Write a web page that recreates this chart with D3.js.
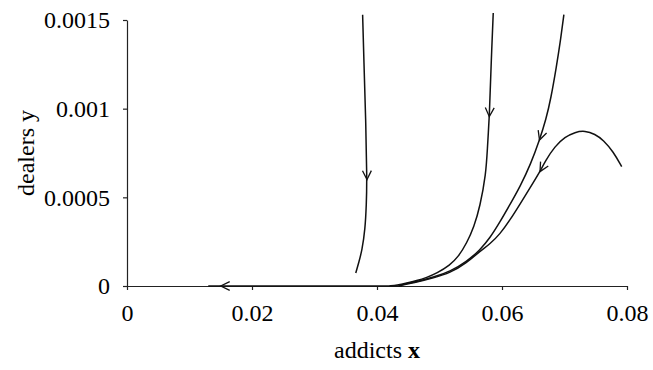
<!DOCTYPE html>
<html>
<head>
<meta charset="utf-8">
<script src="https://cdn.jsdelivr.net/npm/d3@7"></script>
<style>
  body { margin: 0; background: #fff; }
  text { font-family: "Liberation Serif", "Times New Roman", serif; fill: #000; }
</style>
</head>
<body>
<div id="chart"></div>
<script>
// tick values / labels
var xTicks = [0, 0.02, 0.04, 0.06, 0.08];
var xTickLabels = ["0", "0.02", "0.04", "0.06", "0.08"];
var yTicks = [0, 0.0005, 0.001, 0.0015];
var yTickLabels = ["0", "0.0005", "0.001", "0.0015"];

// trajectories, listed in the direction of travel
var curveA = [[0.0377,0.00153],[0.0379,0.00127],[0.0382,0.00094],[0.0384,0.0006],
              [0.0383,0.00046],[0.0381,0.00032],[0.0376,0.0002],[0.0371,0.000135],[0.0366,0.000073]];
var curveB = [[0.0586,0.00154],[0.05835,0.00133],[0.0581,0.00109],[0.05797,0.000955],
              [0.05765,0.000767],[0.05744,0.000635],[0.05648,0.000447],[0.05552,0.000334],
              [0.05435,0.000241],[0.05301,0.000165],[0.05168,0.000118],[0.04955,0.0000716],
              [0.04795,0.0000479],[0.04635,0.00003],[0.04475,0.0000164],[0.0432,0.0000045],[0.042,0]];
var curveC = [[0.0699,0.00153],[0.0693,0.00137],[0.06872,0.00124],[0.06784,0.00106],
              [0.06704,0.00094],[0.066,0.000823],[0.06464,0.000692],[0.06288,0.000559],
              [0.06128,0.00046],[0.05968,0.000361],[0.05808,0.000271],[0.05648,0.000203],
              [0.05435,0.000138],[0.05168,0.0000812],[0.049,0.000049],[0.04635,0.0000242],
              [0.04475,0.0000152],[0.0435,0]];
var curveD = [[0.07915,0.000673],[0.07781,0.000757],[0.07621,0.000823],[0.07488,0.000857],
              [0.07328,0.000876],[0.07168,0.000868],[0.07008,0.00084],[0.06848,0.000789],
              [0.06688,0.000702],[0.06608,0.000645],[0.06448,0.000553],[0.06288,0.000462],
              [0.06128,0.000372],[0.05968,0.000293],[0.05808,0.000237],[0.05648,0.000197],
              [0.05435,0.00013],[0.05168,0.0000733],[0.049,0.000045],[0.04635,0.000021],
              [0.04475,0.000012],[0.0435,0]];
var axisFlow = [[0.044,0],[0.013,0]];

// arrow heads: which curve, and where on it
var arrowCurves = [curveA, curveB, curveC, curveD, axisFlow];
var arrowAt = [[0.0384,0.0006],[0.05797,0.000955],[0.066,0.000823],[0.06608,0.000645],[0.015,0]];

var width = 653, height = 370;
var margin = {top: 20, right: 26, bottom: 84, left: 127};

var svg = d3.select("#chart").append("svg")
    .attr("width", width).attr("height", height);

var xScale = d3.scaleLinear().domain([0, 0.08]).range([margin.left, width - margin.right]);
var yScale = d3.scaleLinear().domain([0, 0.0015]).range([height - margin.bottom, margin.top]);

var xAxis = d3.axisBottom(xScale).tickValues(xTicks)
    .tickFormat(function(d, i){ return xTickLabels[i]; })
    .tickSize(4).tickSizeOuter(0).tickPadding(14);
var yAxis = d3.axisLeft(yScale).tickValues(yTicks)
    .tickFormat(function(d, i){ return yTickLabels[i]; })
    .tickSize(4).tickSizeOuter(0).tickPadding(13);

var gx = svg.append("g").attr("transform", "translate(0," + yScale(0) + ")").call(xAxis);
var gy = svg.append("g").attr("transform", "translate(" + xScale(0) + ",0)").call(yAxis);

[gx, gy].forEach(function(g){
    g.select(".domain").attr("stroke", "#222").attr("stroke-width", 1.2);
    g.selectAll(".tick line").attr("stroke", "#222").attr("stroke-width", 1.2);
    g.selectAll("text").attr("font-size", 24).attr("fill", "#000")
        .style("font-family", "'Liberation Serif', serif");
});

var xTitle = svg.append("text")
    .attr("x", (xScale(0) + xScale(0.08)) / 2)
    .attr("y", 358)
    .attr("text-anchor", "middle")
    .attr("font-size", 24);
xTitle.append("tspan").text("addicts ");
xTitle.append("tspan").attr("font-weight", "bold").text("x");

svg.append("text")
    .attr("transform", "translate(34," + ((yScale(0) + yScale(0.0015)) / 2) + ") rotate(-90)")
    .attr("text-anchor", "middle")
    .attr("font-size", 24)
    .text("dealers y");

var line = d3.line()
    .x(function(d){ return xScale(d[0]); })
    .y(function(d){ return yScale(d[1]); })
    .curve(d3.curveBasis);

svg.selectAll(".traj")
    .data([curveA, curveB, curveC, curveD, axisFlow])
    .enter()
    .append("path")
    .attr("class", "traj")
    .attr("d", line)
    .attr("fill", "none")
    .attr("stroke", "#111")
    .attr("stroke-width", 1.5);

// open V arrow heads pointing along the direction of travel
var wing = 10, spread = 0.46;
svg.selectAll(".arrow")
    .data(arrowAt)
    .enter()
    .append("path")
    .attr("class", "arrow")
    .attr("d", function(d, i){
        var pts = arrowCurves[i].map(function(p){ return [xScale(p[0]), yScale(p[1])]; });
        var tx = xScale(d[0]), ty = yScale(d[1]);
        var best = 0, bestD = Infinity;
        pts.forEach(function(p, k){
            var dd = (p[0]-tx)*(p[0]-tx) + (p[1]-ty)*(p[1]-ty);
            if (dd < bestD) { bestD = dd; best = k; }
        });
        var a = pts[Math.max(best - 1, 0)], b = pts[Math.min(best + 1, pts.length - 1)];
        var ang = Math.atan2(b[1] - a[1], b[0] - a[0]);
        var l1 = [tx - wing*Math.cos(ang - spread), ty - wing*Math.sin(ang - spread)];
        var l2 = [tx - wing*Math.cos(ang + spread), ty - wing*Math.sin(ang + spread)];
        return "M" + l1 + "L" + tx + "," + ty + "L" + l2;
    })
    .attr("fill", "none")
    .attr("stroke", "#111")
    .attr("stroke-width", 1.3);
</script>
</body>
</html>
